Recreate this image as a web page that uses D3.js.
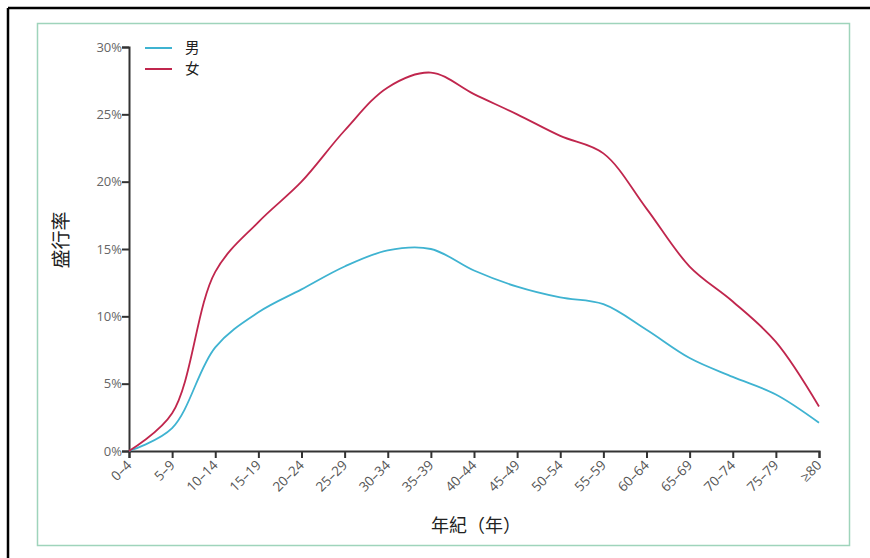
<!DOCTYPE html>
<html><head><meta charset="utf-8">
<script src="https://cdn.jsdelivr.net/npm/d3@7"></script>
<style>body{margin:0;background:#fff}</style>
</head><body>
<svg id="c" width="870" height="558"></svg>
<script>
const categories = ["0–4","5–9","10–14","15–19","20–24","25–29","30–34","35–39","40–44","45–49","50–54","55–59","60–64","65–69","70–74","75–79","≥80"];
const male   = [0, 1.7, 7.7, 10.3, 12.0, 13.7, 14.9, 15.0, 13.4, 12.2, 11.4, 10.9, 9.0, 6.9, 5.5, 4.2, 2.1];
const female = [0, 2.8, 13.3, 17.0, 20.0, 23.8, 27.0, 28.1, 26.5, 25.0, 23.4, 22.1, 18.0, 13.7, 11.1, 8.1, 3.3];
const yTicks = [0, 5, 10, 15, 20, 25, 30];
const seriesNames = ["男", "女"];
const colors = ["#3fb3d1", "#c0264d"];

const svg = d3.select("#c");
// outer frames
svg.append("line").attr("x1",8).attr("y1",8).attr("x2",870).attr("y2",8).attr("stroke","#000").attr("stroke-width",2.5);
svg.append("line").attr("x1",8).attr("y1",8).attr("x2",8).attr("y2",558).attr("stroke","#000").attr("stroke-width",2.5);
svg.append("rect").attr("x",37.5).attr("y",23.5).attr("width",812).attr("height",522)
  .attr("fill","none").attr("stroke","#9fd4bb").attr("stroke-width",1.5);

const x = d3.scalePoint().domain(categories).range([129, 819]);
const y = d3.scaleLinear().domain([0, 30]).range([451, 47]);

const xAxis = svg.append("g").attr("transform","translate(0,451)")
  .call(d3.axisBottom(x).tickSizeOuter(0).tickSize(7));
xAxis.select(".domain").attr("stroke","#333").attr("stroke-width",2);
xAxis.selectAll(".tick line").attr("stroke","#333").attr("stroke-width",2);
xAxis.selectAll(".tick text")
  .attr("font-family","'Open Sans', sans-serif").attr("font-size",13.5).attr("fill","#555")
  .attr("text-anchor","end").attr("dy",0).attr("y",0)
  .attr("transform","translate(3,15) rotate(-45)");

const yAxis = svg.append("g").attr("transform","translate(129,0)")
  .call(d3.axisLeft(y).tickValues(yTicks).tickFormat(d => d + "%").tickSizeOuter(0).tickSize(7));
yAxis.select(".domain").attr("stroke","#333").attr("stroke-width",2);
yAxis.selectAll(".tick line").attr("stroke","#333").attr("stroke-width",2);
yAxis.selectAll(".tick text")
  .attr("font-family","'Open Sans', sans-serif").attr("font-size",13).attr("fill","#666").attr("x",-7);

const line = d3.line().x((d,i) => x(categories[i])).y(d => y(d)).curve(d3.curveCatmullRom.alpha(0.5));
[male, female].forEach((s,k) => {
  svg.append("path").datum(s).attr("d", line).attr("fill","none")
    .attr("stroke", colors[k]).attr("stroke-width", 1.8);
});

// legend
seriesNames.forEach((n,k) => {
  const yy = 48 + k*21;
  svg.append("line").attr("x1",145).attr("x2",172).attr("y1",yy).attr("y2",yy)
    .attr("stroke",colors[k]).attr("stroke-width",2);
  svg.append("text").attr("x",185).attr("y",yy+5).text(n)
    .attr("font-family","'Noto Sans CJK TC', sans-serif").attr("font-size",14.5).attr("fill","#222");
});

svg.append("text").attr("transform","translate(68,240) rotate(-90)").attr("text-anchor","middle")
  .attr("font-family","'Noto Sans CJK TC', sans-serif").attr("font-size",19).attr("fill","#222").text("盛行率");
svg.append("text").attr("x",476).attr("y",532).attr("text-anchor","middle")
  .attr("font-family","'Noto Sans CJK TC', sans-serif").attr("font-size",18).attr("fill","#222").text("年紀（年）");
</script>
</body></html>
